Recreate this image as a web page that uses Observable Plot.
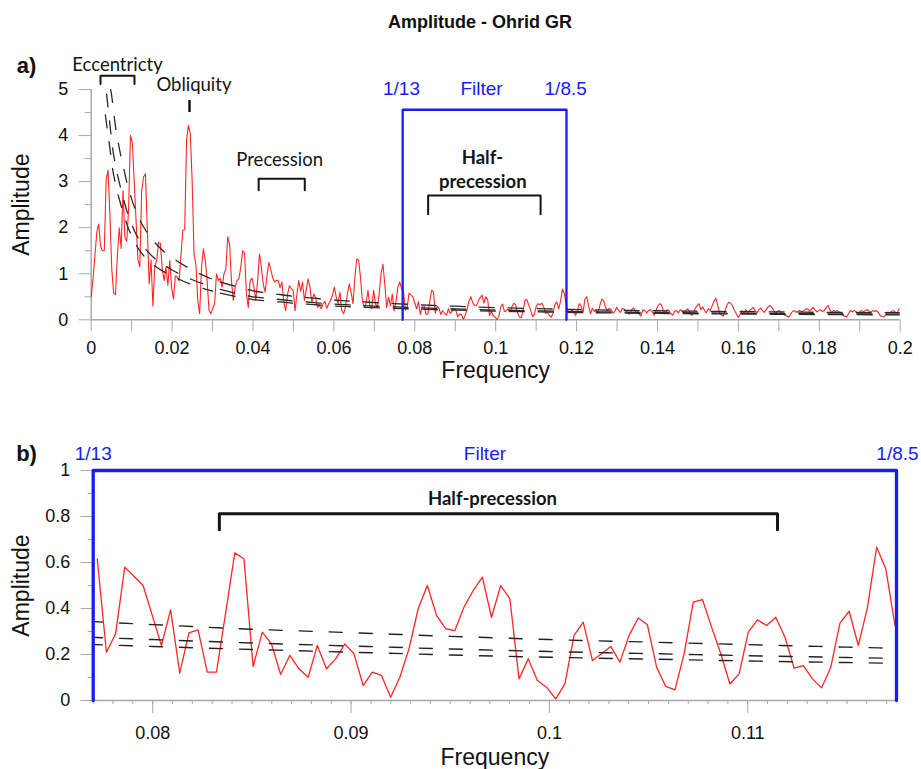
<!DOCTYPE html>
<html><head><meta charset="utf-8">
<script src="https://cdn.jsdelivr.net/npm/d3@7"></script>
<script src="https://cdn.jsdelivr.net/npm/@observablehq/plot@0.6"></script>
<style>
body{margin:0;background:#fff;width:921px;height:769px;overflow:hidden;position:relative;font-family:"Liberation Sans",Arial,sans-serif}
#title{position:absolute;left:0;width:960px;top:12px;line-height:20px;text-align:center;font-weight:bold;font-size:18px;color:#111}
.panel{position:absolute;left:0}
</style></head><body>
<div id="title">Amplitude - Ohrid GR</div>
<div id="a" class="panel" style="top:40px"></div>
<div id="b" class="panel" style="top:430px"></div>
<script>
// ---- spectrum (frequency grid step) ----
const FREQ_STEP = 0.0004623;
const lowAmp = [
 0.5, 0.9, 1.4, 1.9, 2.08, 1.6, 1.5, 1.5, 3.05, 3.25,
 2.3, 1.1, 0.58, 0.55, 1.4, 2.0, 1.55, 2.8, 1.8, 1.7,
 2.4, 4.0, 3.85, 3.0, 2.15, 1.3, 1.15, 2.8, 3.1, 3.17,
 2.0, 0.78, 1.3, 0.3, 1.14, 1.29, 1.68, 1.66, 1.1, 0.85,
 1.14, 0.75, 1.29, 0.7, 0.45, 0.95, 0.93, 0.85, 1.4, 1.94,
 1.96, 3.9, 4.22, 4.05, 3.0, 1.43, 1.2, 0.42, 0.13, 1.14,
 1.54, 1.29, 0.85, 0.2, 0.13, 0.25, 0.35, 1.0, 0.85, 0.9,
 0.71, 1.0, 1.1, 1.8, 1.65, 0.85, 0.42, 0.71, 0.85, 0.9,
 1.14, 1.5, 1.45, 0.56, 0.27, 0.85, 0.9, 0.72, 0.42, 0.85,
 1.43, 1.14, 0.78, 0.6, 0.95, 1.25, 1.1, 0.92, 0.82, 0.86,
 0.85, 0.7, 0.82, 0.38, 0.2, 0.55, 0.74, 0.68, 0.64, 0.2,
 0.55, 0.85, 0.62, 0.82, 0.42, 0.65, 0.89, 0.7, 0.38, 0.56,
 0.48, 0.27, 0.32, 0.24, 0.35, 0.4, 0.25, 0.35, 0.42, 0.53,
 0.71, 0.5, 0.35, 0.6, 0.2, 0.13, 0.28, 0.56, 0.78, 0.6,
 0.35, 0.92, 1.32, 1.3, 0.92, 0.42, 0.27, 0.36, 0.64, 0.31,
 0.24, 0.64, 0.35, 0.27, 0.56, 1.0, 1.21, 0.78, 0.27, 0.49,
 0.3, 0.56, 0.2, 0.4, 0.71, 0.82, 0.67
];
const bandAmp = [
 0.616, 0.21, 0.29, 0.58, 0.54, 0.50, 0.37, 0.239, 0.394, 0.119,
 0.294, 0.307, 0.123, 0.123, 0.38, 0.642, 0.616, 0.148, 0.297, 0.246,
 0.113, 0.196, 0.138, 0.101, 0.239, 0.138, 0.181, 0.246, 0.203, 0.065,
 0.123, 0.109, 0.014, 0.101, 0.225, 0.399, 0.50, 0.37, 0.312, 0.304,
 0.406, 0.478, 0.536, 0.362, 0.50, 0.442, 0.094, 0.181, 0.087, 0.058,
 0.007, 0.072, 0.283, 0.341, 0.174, 0.203, 0.235, 0.167, 0.283, 0.359,
 0.329, 0.145, 0.061, 0.046, 0.203, 0.428, 0.439, 0.319, 0.203, 0.072,
 0.116, 0.297, 0.351, 0.326, 0.362, 0.275, 0.141, 0.152, 0.094, 0.055,
 0.145, 0.336, 0.388, 0.239, 0.406, 0.667, 0.572, 0.326
];
const highAmp = [
 0.2, 0.15, 0.22, 0.18, 0.1, 0.2, 0.35, 0.3, 0.15, 0.45,
 0.5, 0.3, 0.13, 0.25, 0.18, 0.2, 0.15, 0.31, 0.45, 0.42,
 0.27, 0.2, 0.25, 0.22, 0.15, 0.18, 0.27, 0.2, 0.16, 0.25,
 0.23, 0.2, 0.15, 0.12, 0.22, 0.26, 0.18, 0.2, 0.13, 0.08,
 0.22, 0.2, 0.15, 0.2, 0.22, 0.17, 0.1, 0.2, 0.3, 0.35,
 0.32, 0.2, 0.15, 0.22, 0.2, 0.13, 0.1, 0.18, 0.2, 0.15,
 0.22, 0.2, 0.15, 0.2, 0.24, 0.18, 0.1, 0.13, 0.25, 0.31,
 0.35, 0.22, 0.28, 0.2, 0.15, 0.24, 0.2, 0.3, 0.4, 0.47,
 0.32, 0.15, 0.1, 0.08, 0.2, 0.33, 0.38, 0.36, 0.3, 0.2,
 0.13, 0.05, 0.12, 0.2, 0.15, 0.22, 0.16, 0.2, 0.23, 0.27,
 0.2, 0.15, 0.22, 0.25, 0.2, 0.16, 0.22, 0.28, 0.31, 0.27,
 0.2, 0.14, 0.18, 0.2, 0.15, 0.12, 0.1, 0.08, 0.06, 0.12,
 0.18, 0.2, 0.16, 0.19, 0.2, 0.17, 0.2, 0.23, 0.24, 0.2,
 0.22, 0.27, 0.22, 0.17, 0.2, 0.22, 0.18, 0.2, 0.26, 0.31,
 0.22, 0.15, 0.2, 0.18, 0.2, 0.17, 0.12, 0.09, 0.08, 0.06,
 0.13, 0.2, 0.17, 0.2, 0.18, 0.15, 0.18, 0.2, 0.17, 0.2,
 0.22, 0.18, 0.17, 0.2, 0.18, 0.2, 0.15, 0.09, 0.07, 0.06,
 0.12, 0.17, 0.15, 0.18, 0.2, 0.17, 0.15, 0.24
];

// ---- red-noise confidence levels ----
const ciFreq = [0.0035, 0.0038, 0.0048, 0.005, 0.006, 0.007, 0.008, 0.009, 0.010, 0.012,
 0.014, 0.016, 0.018, 0.020, 0.025, 0.030, 0.035, 0.040, 0.045, 0.050,
 0.055, 0.060, 0.065, 0.070, 0.075, 0.080, 0.085, 0.090, 0.095, 0.100,
 0.105, 0.110, 0.115, 0.120, 0.130, 0.140, 0.150, 0.160, 0.170, 0.180, 0.190, 0.200];
const ciLower = [4.45, 4.25, 3.6, 3.45, 2.95, 2.6, 2.3, 2.03, 1.82, 1.5,
 1.3, 1.15, 1.04, 0.95, 0.76, 0.62, 0.52, 0.44, 0.40, 0.36,
 0.33, 0.30, 0.28, 0.263, 0.249, 0.235, 0.222, 0.21, 0.198, 0.188,
 0.18, 0.172, 0.165, 0.158, 0.148, 0.139, 0.131, 0.125, 0.12, 0.115, 0.111, 0.108];
const ciMiddle = [null, 4.9, 4.1, 3.93, 3.36, 2.96, 2.62, 2.31, 2.07, 1.71,
 1.48, 1.31, 1.19, 1.08, 0.87, 0.71, 0.59, 0.50, 0.455, 0.41,
 0.375, 0.34, 0.318, 0.298, 0.281, 0.265, 0.25, 0.237, 0.224, 0.213,
 0.204, 0.195, 0.187, 0.179, 0.168, 0.158, 0.15, 0.143, 0.137, 0.131, 0.127, 0.123];
const ciUpper = [null, null, 5.0, 4.9, 4.2, 3.7, 3.3, 2.92, 2.62, 2.17,
 1.87, 1.65, 1.48, 1.35, 1.08, 0.88, 0.74, 0.63, 0.57, 0.51,
 0.47, 0.43, 0.40, 0.375, 0.352, 0.33, 0.31, 0.295, 0.279, 0.265,
 0.254, 0.243, 0.232, 0.222, 0.208, 0.196, 0.186, 0.177, 0.17, 0.163, 0.157, 0.153];

// ---- filter band and annotations ----
const filterBand = [0.077, 0.1175];
const filterLabels = ["1/13", "Filter", "1/8.5"];
const filterTopA = 4.56;
const topBrackets = [
 {name: "Eccentricty", f1: 0.0023, f2: 0.0107, top: 5.30, leg: 5.12},
 {name: "Precession", f1: 0.0414, f2: 0.0528, top: 3.06, leg: 2.81},
 {name: "Half-precession", f1: 0.0833, f2: 0.1111, top: 2.70, leg: 2.29}
];
const obliquity = {f: 0.0243, a1: 4.50, a2: 4.76};
const topLabels = [
 {text: "Eccentricty", f: 0.0065, a: 5.54},
 {text: "Obliquity", f: 0.0254, a: 5.09},
 {text: "Precession", f: 0.0466, a: 3.46}
];
const topBoldLabels = [
 {text: "Half-", f: 0.0967, a: 3.52},
 {text: "precession", f: 0.0968, a: 3.00}
];
const topFilterLabelF = [0.0767, 0.0965, 0.1173];
const bottomBracket = {name: "Half-precession", f1: 0.08336, f2: 0.1115, top: 0.812, leg: 0.742};
const bottomBoldLabel = {text: "Half-precession", f: 0.09713, a: 0.874};
const bottomFilterLabelF = [0.077, 0.09675, 0.11755];

// ---- ticks ----
const topXTicks = d3.range(0, 21).map(k => k / 100);
const topXLabels = [0, 0.02, 0.04, 0.06, 0.08, 0.1, 0.12, 0.14, 0.16, 0.18, 0.2];
const topYTicks = [0, 1, 2, 3, 4, 5];
const topYMinor = [0.5, 1.5, 2.5, 3.5, 4.5];
const bottomXTicks = [0.08, 0.09, 0.1, 0.11];
const bottomXMinor = d3.range(77, 118).map(k => k / 1000);
const bottomYTicks = [0, 0.2, 0.4, 0.6, 0.8, 1];
const bottomYMinor = [0.1, 0.3, 0.5, 0.7, 0.9];

// ---- derived tables ----
const spectrum = [...lowAmp, ...bandAmp, ...highAmp].map((a, i) => ({f: i * FREQ_STEP, a}));
const ciRows = [["lower", ciLower], ["middle", ciMiddle], ["upper", ciUpper]]
  .flatMap(([name, vals]) => vals.map((v, j) => ({name, f: ciFreq[j], a: v})).filter(d => d.a != null));
const ciSteepRows = ciRows.filter(d => d.f <= 0.03);
const ciFlatRows = ciRows.filter(d => d.f >= 0.03);
const ciBandRows = ciRows.filter(d => d.f >= 0.075 && d.f <= 0.12);
const bracketPts = b => [{name: b.name, f: b.f1, a: b.leg}, {name: b.name, f: b.f1, a: b.top},
  {name: b.name, f: b.f2, a: b.top}, {name: b.name, f: b.f2, a: b.leg}];
const boxPts = top => [{f: filterBand[0], a: 0}, {f: filterBand[0], a: top}, {f: filterBand[1], a: top}, {f: filterBand[1], a: 0}];

const fmt = d => d === 0 ? "0" : String(+d.toFixed(3));
const gray = "#a8a8a8", red = "#ff2626", blue = "#1a1aff", ink = "#151515";
const annFont = "Lato, 'Open Sans', sans-serif";
const baseFont = "'Liberation Sans', Arial, sans-serif";

const topPlot = Plot.plot({
  width: 921, height: 360,
  marginLeft: 90.7, marginRight: 21.3, marginTop: 49, marginBottom: 91 - 10.3,
  style: {fontFamily: baseFont, background: "white", overflow: "visible", color: "#111"},
  x: {domain: [0, 0.2]},
  y: {domain: [0, 5]},
  marks: [
    Plot.ruleY([0], {stroke: gray, strokeWidth: 1.5}),
    Plot.ruleX([0], {y1: 0, y2: 5, stroke: gray, strokeWidth: 1.5}),
    Plot.axisX(topXTicks, {tickSize: 12, tickFormat: () => "", stroke: gray, label: null}),
    Plot.axisX(topXLabels, {tickSize: 0, tickPadding: 21, fontSize: 18, tickFormat: fmt, label: null}),
    Plot.axisY(topYTicks, {tickSize: 12, tickPadding: 11, fontSize: 18, stroke: gray, tickFormat: fmt, label: null}),
    Plot.axisY(topYMinor, {tickSize: 6, tickFormat: () => "", stroke: gray, label: null}),
    Plot.line(spectrum, {x: "f", y: "a", stroke: red, strokeWidth: 1.1}),
    Plot.line(ciSteepRows, {x: "f", y: "a", z: "name", stroke: "#2a2a2a", strokeWidth: 1.3, strokeDasharray: "13,14", curve: "monotone-x", clip: true}),
    Plot.line(ciFlatRows, {x: "f", y: "a", z: "name", stroke: "#2a2a2a", strokeWidth: 1.3, strokeDasharray: "15,14", strokeDashoffset: -8, curve: "monotone-x", clip: true}),
    Plot.line(boxPts(filterTopA), {x: "f", y: "a", stroke: blue, strokeWidth: 2.3}),
    Plot.line(topBrackets.flatMap(bracketPts), {x: "f", y: "a", z: "name", stroke: ink, strokeWidth: 2}),
    Plot.ruleX([obliquity], {x: "f", y1: "a1", y2: "a2", stroke: ink, strokeWidth: 2.5}),
    Plot.text(topLabels, {x: "f", y: "a", text: "text", fontSize: 18.5, fontFamily: annFont, fill: ink}),
    Plot.text(topBoldLabels, {x: "f", y: "a", text: "text", fontSize: 18.5, fontFamily: annFont, fontWeight: "bold", fill: ink}),
    Plot.text(filterLabels, {x: (d, i) => topFilterLabelF[i], y: () => 5.02, text: d => d, fontSize: 19, fill: blue}),
    Plot.text(["a)"], {frameAnchor: "top-left", dx: -64.7, dy: -24, textAnchor: "middle", lineAnchor: "middle", fontSize: 22, fontWeight: "bold"}),
    Plot.text(["Frequency"], {frameAnchor: "bottom", dy: 51, lineAnchor: "middle", fontSize: 23}),
    Plot.text(["Amplitude"], {frameAnchor: "left", dx: -69.7, rotate: -90, textAnchor: "middle", lineAnchor: "middle", fontSize: 23})
  ]
});
document.getElementById("a").append(topPlot);

const bottomPlot = Plot.plot({
  width: 921, height: 339,
  marginLeft: 92.7, marginRight: 25, marginTop: 40, marginBottom: 69,
  style: {fontFamily: baseFont, background: "white", overflow: "visible", color: "#111"},
  x: {domain: filterBand},
  y: {domain: [0, 1]},
  marks: [
    Plot.ruleY([0], {stroke: gray, strokeWidth: 1.5}),
    Plot.axisX(bottomXMinor, {tickSize: 4, tickFormat: () => "", stroke: gray, label: null}),
    Plot.axisX(bottomXTicks, {tickSize: 13, tickPadding: 13, fontSize: 18, stroke: gray, tickFormat: fmt, label: null}),
    Plot.axisY(bottomYTicks, {tickSize: 12, tickPadding: 11, fontSize: 18, stroke: gray, tickFormat: fmt, label: null}),
    Plot.axisY(bottomYMinor, {tickSize: 5, tickFormat: () => "", stroke: gray, label: null}),
    Plot.line(spectrum.filter(d => d.f >= filterBand[0] && d.f <= filterBand[1]), {x: "f", y: "a", stroke: red, strokeWidth: 1.3}),
    Plot.line(ciBandRows, {x: "f", y: "a", z: "name", stroke: "#222", strokeWidth: 1.4, strokeDasharray: "13,17", strokeDashoffset: -6, curve: "monotone-x", clip: true}),
    Plot.line(boxPts(1), {x: "f", y: "a", stroke: blue, strokeWidth: 3.3}),
    Plot.line(bracketPts(bottomBracket), {x: "f", y: "a", stroke: ink, strokeWidth: 3}),
    Plot.text([bottomBoldLabel], {x: "f", y: "a", text: "text", fontSize: 18.5, fontFamily: annFont, fontWeight: "bold", fill: ink}),
    Plot.text(filterLabels, {x: (d, i) => bottomFilterLabelF[i], y: () => 1.074, text: d => d, fontSize: 19, fill: blue}),
    Plot.text(["b)"], {frameAnchor: "top-left", dx: -66.7, dy: -17, textAnchor: "middle", lineAnchor: "middle", fontSize: 22, fontWeight: "bold"}),
    Plot.text(["Frequency"], {frameAnchor: "bottom", dy: 57, lineAnchor: "middle", fontSize: 23}),
    Plot.text(["Amplitude"], {frameAnchor: "left", dx: -71.7, rotate: -90, textAnchor: "middle", lineAnchor: "middle", fontSize: 23})
  ]
});
document.getElementById("b").append(bottomPlot);
</script>
</body></html>
